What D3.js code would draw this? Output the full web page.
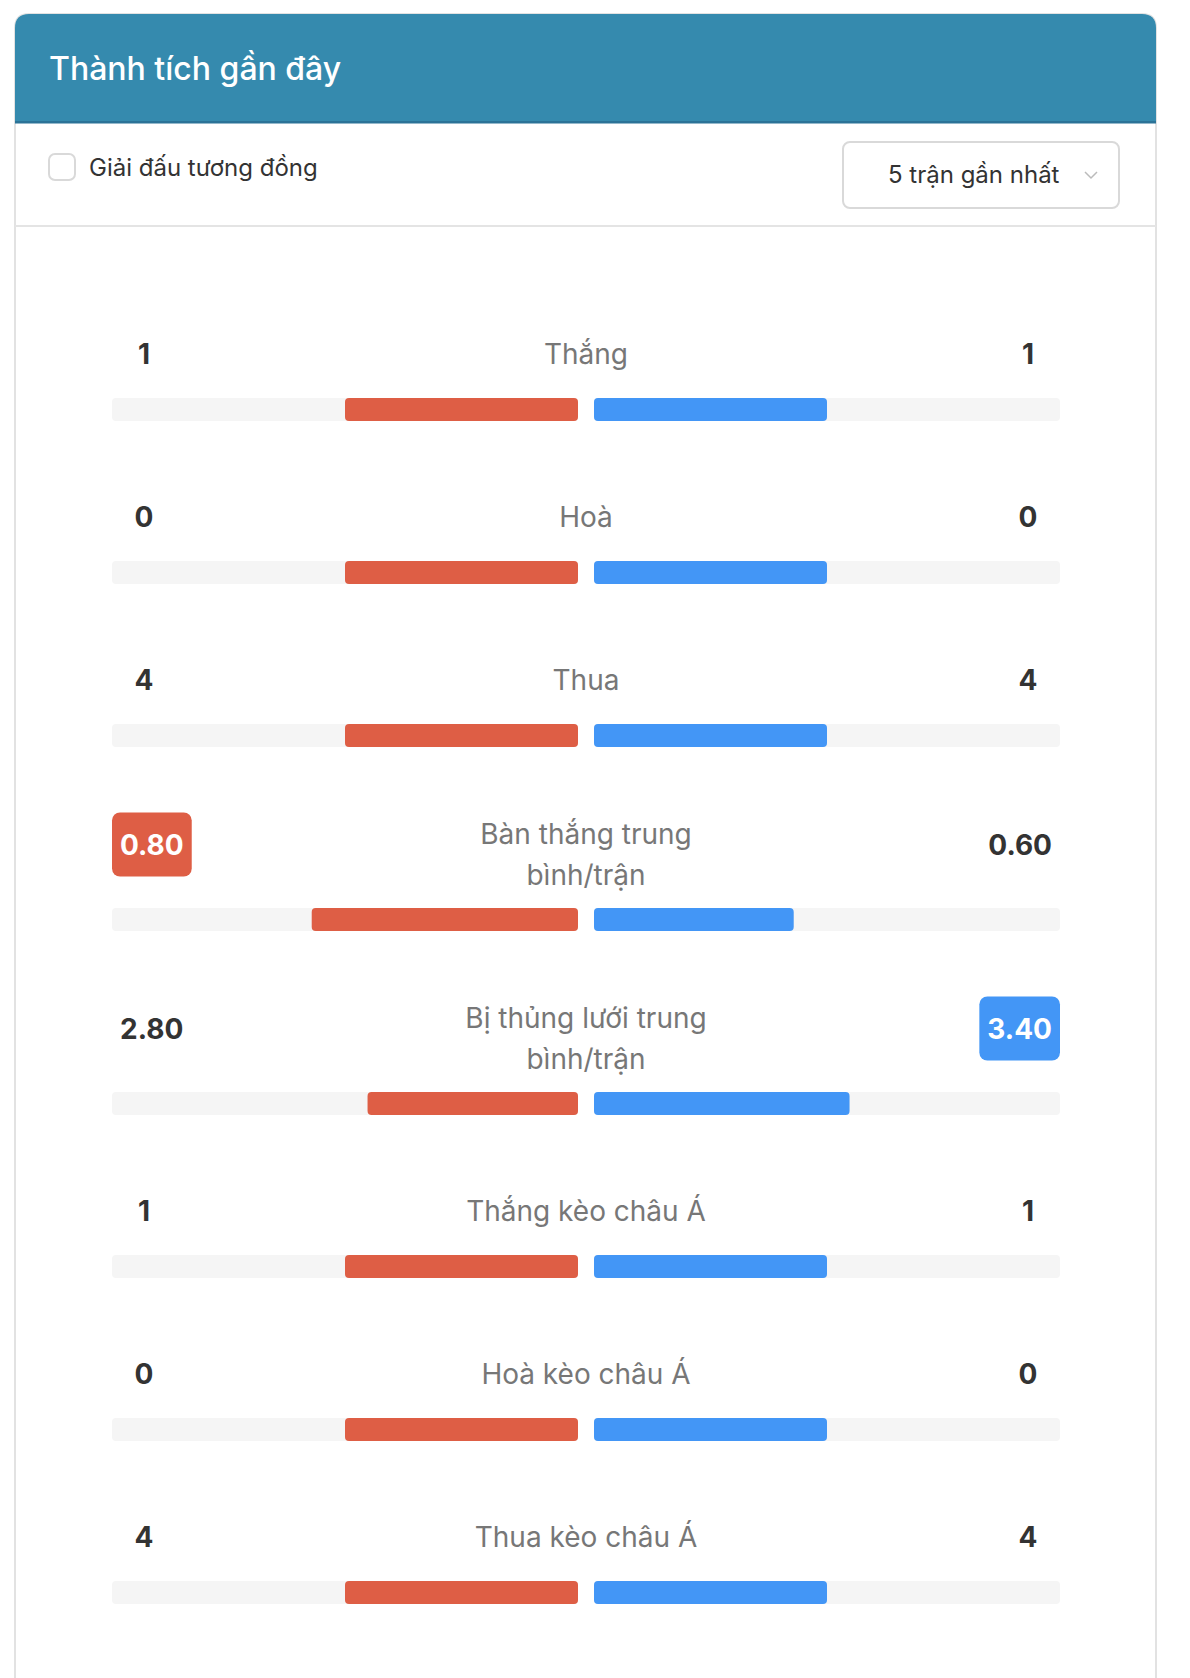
<!DOCTYPE html>
<html>
<head>
<meta charset="utf-8">
<script src="https://cdn.jsdelivr.net/npm/d3@7"></script>
<style>
  html, body { margin: 0; padding: 0; background: #fff; }
  svg { display: block; font-family: Inter, "Noto Sans", sans-serif; }
</style>
</head>
<body>
<div id="chart"></div>
<script>
// stats rows
const labels = [
  ["Thắng"],
  ["Hoà"],
  ["Thua"],
  ["Bàn thắng trung", "bình/trận"],
  ["Bị thủng lưới trung", "bình/trận"],
  ["Thắng kèo châu Á"],
  ["Hoà kèo châu Á"],
  ["Thua kèo châu Á"]
];
const homeValues = [1, 0, 4, 0.80, 2.80, 1, 0, 4];
const awayValues = [1, 0, 4, 0.60, 3.40, 1, 0, 4];
const isAverage = [false, false, false, true, true, false, false, false];

const title = "Thành tích gần đây";
const filterLabel = "Giải đấu tương đồng";
const rangeLabel = "5 trận gần nhất";

const colorHome = "#de5e45",
      colorAway = "#4396f6",
      colorTrack = "#f5f5f5",
      colorHeader = "#358aae";

const W = 1190, H = 1678;
const card = {left: 15, right: 1156, top: 14};
const bar = {left: 112, right: 1060, gap: 16, h: 23};
const center = (bar.left + bar.right) / 2;
const half = (bar.right - bar.left - bar.gap) / 2;

const svg = d3.select("#chart")
  .append("svg")
  .attr("width", W)
  .attr("height", H);

// card
svg.append("path")
  .attr("d", `M${card.left},${H + 20} V${card.top + 14} Q${card.left},${card.top} ${card.left + 14},${card.top}
              H${card.right - 14} Q${card.right},${card.top} ${card.right},${card.top + 14} V${H + 20}`)
  .attr("fill", "#fff")
  .attr("stroke", "#e2e2e2")
  .attr("stroke-width", 2);

// header
svg.append("path")
  .attr("d", `M${card.left},123 V${card.top + 14} Q${card.left},${card.top} ${card.left + 14},${card.top}
              H${card.right - 14} Q${card.right},${card.top} ${card.right},${card.top + 14} V123 Z`)
  .attr("fill", colorHeader);
svg.append("rect")
  .attr("x", card.left)
  .attr("y", 121)
  .attr("width", card.right - card.left)
  .attr("height", 2.5)
  .attr("fill", "#2b7397");
svg.append("text")
  .attr("x", 49)
  .attr("y", 80)
  .attr("fill", "#fff")
  .attr("font-size", "32px")
  .attr("font-weight", 500)
  .text(title);

// controls
svg.append("rect")
  .attr("x", 49)
  .attr("y", 154)
  .attr("width", 26)
  .attr("height", 26)
  .attr("rx", 6)
  .attr("fill", "#fff")
  .attr("stroke", "#d9d9d9")
  .attr("stroke-width", 2);
svg.append("text")
  .attr("x", 89)
  .attr("y", 176)
  .attr("fill", "#333")
  .attr("font-size", "24px")
  .text(filterLabel);

svg.append("rect")
  .attr("x", 843)
  .attr("y", 142)
  .attr("width", 276)
  .attr("height", 66)
  .attr("rx", 7)
  .attr("fill", "#fff")
  .attr("stroke", "#d9d9d9")
  .attr("stroke-width", 2);
svg.append("text")
  .attr("x", 888)
  .attr("y", 183)
  .attr("fill", "#333")
  .attr("font-size", "24px")
  .text(rangeLabel);
svg.append("path")
  .attr("d", "M1085,172 L1091,178 L1097,172")
  .attr("fill", "none")
  .attr("stroke", "#bbb")
  .attr("stroke-width", 1.5);

svg.append("rect")
  .attr("x", card.left)
  .attr("y", 225)
  .attr("width", card.right - card.left)
  .attr("height", 2)
  .attr("fill", "#e4e4e4");

// bar scale (share of the pair total)
const x = d3.scaleLinear().domain([0, 1]).range([0, half]);

// layout: bar top of each row
let barTops = [];
let y0 = 398;
labels.forEach((l, i) => {
  if (i > 0) y0 += 163 + (l.length > 1 ? 21 : 0);
  barTops.push(y0);
});

const rows = svg.selectAll("g.row")
  .data(labels.map((l, i) => ({
    label: l,
    home: homeValues[i],
    away: awayValues[i],
    avg: isAverage[i],
    top: barTops[i]
  })))
  .enter().append("g")
  .attr("class", "row")
  .attr("transform", d => "translate(0," + d.top + ")");

// tracks
rows.append("rect")
  .attr("x", bar.left)
  .attr("y", 0)
  .attr("width", half)
  .attr("height", bar.h)
  .attr("rx", 4)
  .attr("fill", colorTrack);
rows.append("rect")
  .attr("x", center + bar.gap / 2)
  .attr("y", 0)
  .attr("width", half)
  .attr("height", bar.h)
  .attr("rx", 4)
  .attr("fill", colorTrack);

function share(d, side) {
  const tot = d.home + d.away;
  if (tot === 0) return 0.5;
  return (side === "home" ? d.home : d.away) / tot;
}

rows.append("rect")
  .attr("x", d => center - bar.gap / 2 - x(share(d, "home")))
  .attr("y", 0)
  .attr("width", d => x(share(d, "home")))
  .attr("height", bar.h)
  .attr("rx", 4)
  .attr("fill", colorHome);
rows.append("rect")
  .attr("x", center + bar.gap / 2)
  .attr("y", 0)
  .attr("width", d => x(share(d, "away")))
  .attr("height", bar.h)
  .attr("rx", 4)
  .attr("fill", colorAway);

// labels
rows.each(function(d) {
  const g = d3.select(this);
  const two = d.label.length > 1;
  const t = g.append("text")
    .attr("text-anchor", "middle")
    .attr("fill", "#777")
    .attr("font-size", "28px");
  d.label.forEach((line, k) => {
    const cy = two ? (k === 0 ? -74 : -33) : -44;
    t.append("tspan")
      .attr("x", center)
      .attr("y", cy)
      .attr("dy", "0.35em")
      .text(line);
  });

  // numbers
  const numY = two ? -63.5 : -44;
  [["home", d.home], ["away", d.away]].forEach(([side, v]) => {
    const other = side === "home" ? d.away : d.home;
    const str = d.avg ? v.toFixed(2) : String(v);
    const badge = v > other;
    const txt = g.append("text")
      .attr("y", numY)
      .attr("dy", "0.36em")
      .attr("text-anchor", "middle")
      .attr("font-size", "28px")
      .attr("font-weight", 700)
      .attr("fill", badge ? "#fff" : "#333")
      .text(str);
    const tw = txt.node().getComputedTextLength();
    const bw = Math.max(64, tw + 16);
    const cx = side === "home" ? bar.left + bw / 2 : bar.right - bw / 2;
    txt.attr("x", cx);
    if (badge) {
      g.insert("rect", "text")
        .attr("x", cx - bw / 2)
        .attr("y", numY - 32)
        .attr("width", bw)
        .attr("height", 64)
        .attr("rx", 8)
        .attr("fill", side === "home" ? colorHome : colorAway);
    }
  });
});
</script>
</body>
</html>
